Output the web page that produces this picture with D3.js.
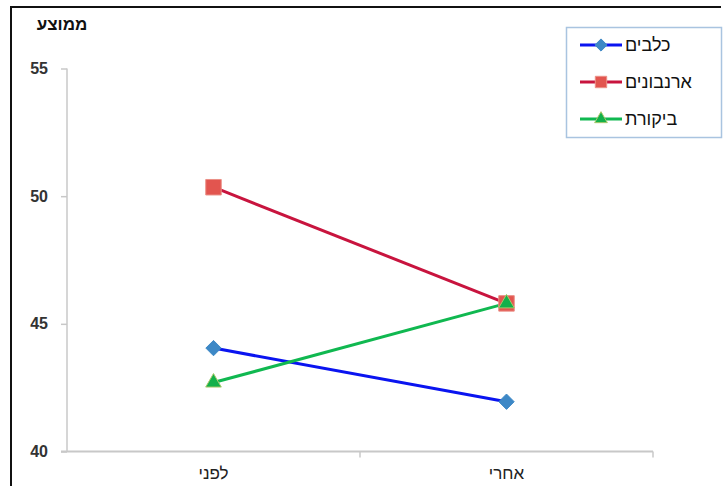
<!DOCTYPE html>
<html>
<head>
<meta charset="utf-8">
<script src="https://cdn.jsdelivr.net/npm/d3@7"></script>
<style>
  body { margin: 0; background: #fff; }
  svg { display: block; font-family: "Liberation Sans", Arial, sans-serif; }
</style>
</head>
<body>
<div id="chart"></div>
<script>
// categories (x axis) and y tick values
const categories = ["לפני", "אחרי"];
const yTicks = [40, 45, 50, 55];

// series values
const dogs = [44.05, 41.95];
const rabbits = [50.35, 45.8];
const control = [42.7, 45.8];

const seriesNames = ["כלבים", "ארנבונים", "ביקורת"];

const series = [
    {name: seriesNames[0], values: dogs, line: "#0a14f0", fill: "#3d88c6", stroke: "#3d88c6", symbol: "diamond"},
    {name: seriesNames[1], values: rabbits, line: "#c8143e", fill: "#e2554f", stroke: "#eb8f86", symbol: "square"},
    {name: seriesNames[2], values: control, line: "#10b850", fill: "#12b04a", stroke: "#a9c86a", symbol: "triangle"}
];

function symbolPath(kind, big) {
    if (kind === "diamond") return d3.symbol(d3.symbolDiamond2, big ? 150 : 95)();
    if (kind === "square") return d3.symbol(d3.symbolSquare, big ? 240 : 130)();
    return d3.symbol(d3.symbolTriangle, big ? 105 : 70)();
}

function main() {
    const width = 726;
    const height = 486;
    const marginTop = 68.5;
    const marginLeft = 67;
    const plotRight = 653;
    const plotBottom = 451.5;

    const svg = d3.select("#chart").append("svg")
        .attr("width", width)
        .attr("height", height);

    // outer frame (left and top edges visible)
    svg.append("path")
        .attr("fill", "none")
        .attr("stroke", "#111")
        .attr("stroke-width", 2)
        .attr("d", `M11,${height} L11,7 L721,7`);

    const x = d3.scaleBand()
        .domain(categories)
        .range([marginLeft, plotRight]);

    const y = d3.scaleLinear()
        .domain([40, 55])
        .range([plotBottom, marginTop]);

    const cx = d => x(d) + x.bandwidth() / 2;

    // y axis
    const yAxis = svg.append("g")
        .attr("transform", `translate(${marginLeft},0)`)
        .call(d3.axisLeft(y).tickValues(yTicks).tickSize(6).tickPadding(13).tickFormat(d3.format("d")));
    yAxis.select(".domain").attr("stroke", "#c8c8c8").attr("stroke-width", 1.5).attr("d", `M0,${marginTop}V${plotBottom}`);
    yAxis.selectAll(".tick line").attr("stroke", "#c8c8c8").attr("stroke-width", 1.5);
    yAxis.selectAll(".tick text")
        .attr("fill", "#333")
        .style("font-size", "16px")
        .style("font-weight", "bold")
        .style("font-family", "'Liberation Sans', Arial, sans-serif");

    // x axis
    const xAxis = svg.append("g")
        .attr("transform", `translate(0,${plotBottom})`)
        .call(d3.axisBottom(x).tickSize(0).tickPadding(15));
    xAxis.select(".domain").attr("stroke", "#c8c8c8").attr("stroke-width", 2).attr("d", `M${marginLeft - 6},0H${plotRight}`);
    xAxis.selectAll(".tick text")
        .attr("fill", "#222")
        .style("font-size", "17px")
        .style("font-family", "'Liberation Sans', Arial, sans-serif");
    // tick marks between/at ends of categories
    xAxis.append("g")
        .selectAll("line")
        .data([x(categories[1]), plotRight])
        .join("line")
        .attr("x1", d => d).attr("x2", d => d)
        .attr("y1", 0).attr("y2", 6)
        .attr("stroke", "#c8c8c8")
        .attr("stroke-width", 1.5);

    // y title
    svg.append("text")
        .attr("x", 62)
        .attr("y", 30)
        .attr("text-anchor", "middle")
        .attr("fill", "#111")
        .style("font-size", "17px")
        .style("font-weight", "bold")
        .text("ממוצע");

    // lines
    const line = d3.line()
        .x((d, i) => cx(categories[i]))
        .y(d => y(d));

    svg.append("g")
        .selectAll("path")
        .data(series)
        .join("path")
        .attr("fill", "none")
        .attr("stroke", d => d.line)
        .attr("stroke-width", 3)
        .attr("d", d => line(d.values));

    // markers
    series.forEach(s => {
        svg.append("g")
            .selectAll("path")
            .data(s.values)
            .join("path")
            .attr("transform", (d, i) => `translate(${cx(categories[i])},${y(d)})`)
            .attr("d", symbolPath(s.symbol, true))
            .attr("fill", s.fill)
            .attr("stroke", s.stroke)
            .attr("stroke-width", 1);
    });

    // legend
    const legend = svg.append("g").attr("transform", "translate(566,27)");
    legend.append("rect")
        .attr("x", 0.5).attr("y", 0.5)
        .attr("width", 155).attr("height", 110)
        .attr("fill", "#fff")
        .attr("stroke", "#a9c4e0")
        .attr("stroke-width", 1.5);

    const rows = legend.selectAll("g.row")
        .data(series)
        .join("g")
        .attr("class", "row")
        .attr("transform", (d, i) => `translate(0,${18 + i * 37})`);
    rows.append("line")
        .attr("x1", 14).attr("x2", 56)
        .attr("y1", 0).attr("y2", 0)
        .attr("stroke", d => d.line)
        .attr("stroke-width", 3);
    rows.append("path")
        .attr("transform", "translate(35,0)")
        .attr("d", d => symbolPath(d.symbol, false))
        .attr("fill", d => d.fill)
        .attr("stroke", d => d.stroke)
        .attr("stroke-width", 1);
    rows.append("text")
        .attr("x", 59)
        .attr("y", 0)
        .attr("dy", "0.35em")
        .attr("fill", "#111")
        .style("font-size", "18px")
        .text(d => d.name);
}

main();
</script>
</body>
</html>
